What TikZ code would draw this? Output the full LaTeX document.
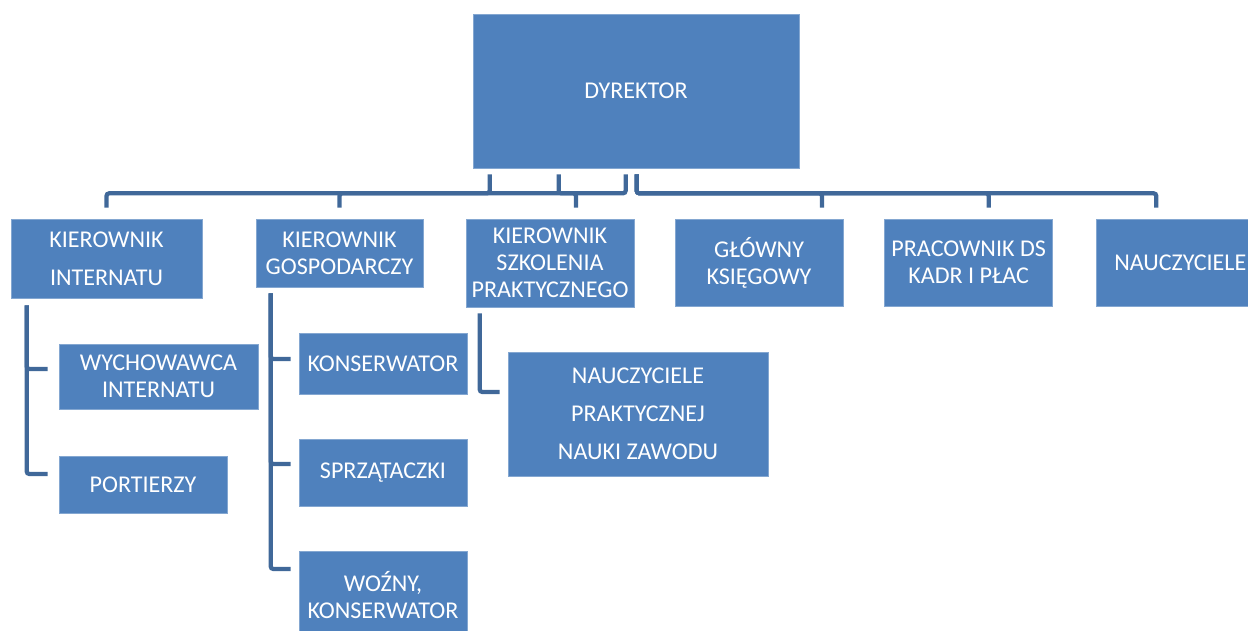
\documentclass[tikz,border=0pt]{standalone}
\usepackage{fontspec}
\setmainfont{Carlito}
\usepackage{xcolor}
\usetikzlibrary{calc, positioning}
\definecolor{boxblue}{RGB}{79,129,189}
\definecolor{lineblue}{RGB}{64,104,153}

\begin{document}
\begin{tikzpicture}[x=0.02cm, y=-0.02cm,
  box/.style={fill=boxblue, draw=boxblue!70!white, line width=0.4pt, text=white,
    align=center, inner sep=0pt, font=\fontsize{13.7}{15.4}\selectfont},
  wide/.style={font=\fontsize{13.7}{21.6}\selectfont},
  conn/.style={draw=lineblue, line width=2.4pt, rounded corners=1.5pt}]
\useasboundingbox (0,0) rectangle (1248,631);
% top level
\node[box, minimum width=6.52cm, minimum height=3.08cm] (dyr) at (636,91) {DYREKTOR};
\node[box, wide, minimum width=3.82cm, minimum height=1.58cm] (kint) at (106.5,258.5) {KIEROWNIK\\INTERNATU};
\node[box, minimum width=3.34cm, minimum height=1.36cm] (kgos) at (339.5,253) {KIEROWNIK\\GOSPODARCZY};
\node[box, minimum width=3.36cm, minimum height=1.76cm] (kszk) at (550,263) {KIEROWNIK\\SZKOLENIA\\PRAKTYCZNEGO};
\node[box, minimum width=3.36cm, minimum height=1.74cm] (gks) at (759,262.5) {GŁÓWNY\\KSIĘGOWY};
\node[box, minimum width=3.36cm, minimum height=1.74cm, right=0.82cm of gks] (kadr) {PRACOWNIK DS\\KADR I PŁAC};
\node[box, minimum width=3.36cm, minimum height=1.74cm, right=0.86cm of kadr] (naucz) {NAUCZYCIELE};
% second level
\node[box, minimum width=3.98cm, minimum height=1.3cm] (wych) at (158.5,376.5) {WYCHOWAWCA\\INTERNATU};
\node[box, minimum width=3.36cm, minimum height=1.14cm] (port) at (143,484.5) {PORTIERZY};
\node[box, minimum width=3.36cm, minimum height=1.22cm] (kons) at (383,363.5) {KONSERWATOR};
\node[box, minimum width=3.36cm, minimum height=1.34cm] (sprz) at (383,472.5) {SPRZĄTACZKI};
\node[box, minimum width=3.36cm, minimum height=1.78cm] (wozn) at (383,595.5) {WOŹNY,\\KONSERWATOR};
\node[box, wide, minimum width=5.2cm, minimum height=2.48cm] (npnz) at (638,414) {NAUCZYCIELE\\PRAKTYCZNEJ\\NAUKI ZAWODU};
% connectors from the director
\draw[conn] ($(dyr.south west)+(17,6)$) -- ++(0,19) -| ($(kint.north)+(0,-11)$);
\draw[conn] ($(dyr.south west)+(86,6)$) -- ++(0,19) -| ($(kszk.north)+(26,-11)$);
\draw[conn] ($(dyr.south west)+(153,6)$) -- ++(0,19) -| ($(kgos.north)+(0,-11)$);
\draw[conn] ($(dyr.south west)+(164,6)$) -- ++(0,19) -| ($(gks.north)+(63,-11)$);
\draw[conn] ($(dyr.south west)+(164,6)$) -- ++(0,19) -| ($(kadr.north)+(20,-11)$);
\draw[conn] ($(dyr.south west)+(164,6)$) -- ++(0,19) -| ($(naucz.north)+(-24,-11)$);
% connectors to the second level
\draw[conn] ($(kint.south west)+(16,7)$) |- ($(wych.west)+(-11,-7.5)$);
\draw[conn] ($(kint.south west)+(16,7)$) |- ($(port.west)+(-11,-10.5)$);
\draw[conn] ($(kgos.south west)+(15,6)$) |- ($(kons.west)+(-8,-4.5)$);
\draw[conn] ($(kgos.south west)+(15,6)$) |- ($(sprz.west)+(-8,-8.5)$);
\draw[conn] ($(kgos.south west)+(15,6)$) |- ($(wozn.west)+(-8,-26.5)$);
\draw[conn] ($(kszk.south west)+(14,6)$) |- ($(npnz.west)+(-8,-22)$);
\end{tikzpicture}
\end{document}
